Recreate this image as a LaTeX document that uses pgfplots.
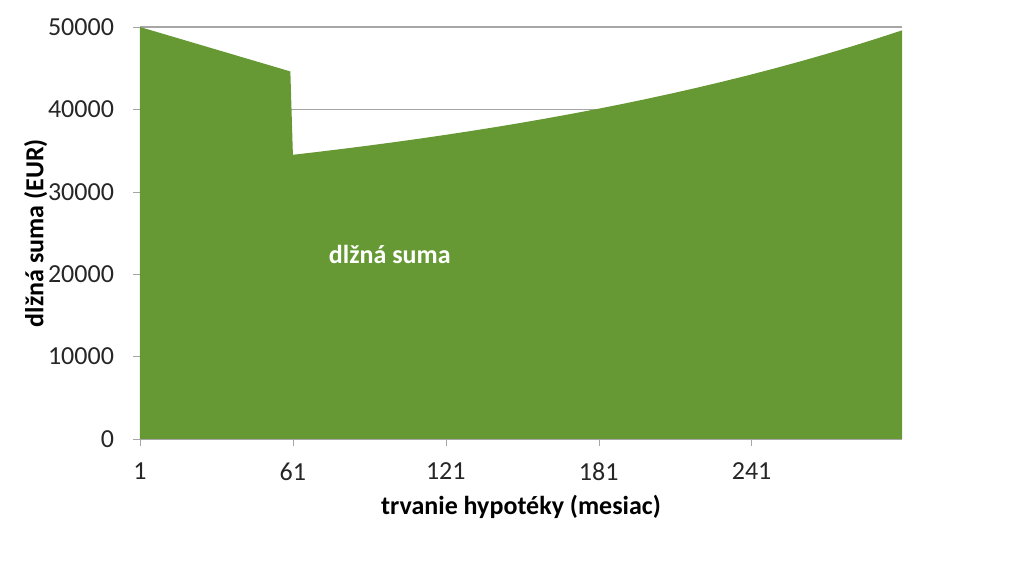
\documentclass[border=0pt]{standalone}
\usepackage{pgfplots}
\pgfplotsset{compat=1.18}
\usepackage{fontspec}
\setmainfont{Carlito}
\definecolor{areagreen}{HTML}{669933}
\definecolor{gridgray}{HTML}{A6A6A6}
\begin{document}
\begin{tikzpicture}
\useasboundingbox (-70pt,-64.5pt) rectangle (442pt,219.5pt);
\begin{axis}[
at = {(0,0)},
anchor = south west,
scale only axis,
width = 381pt,
height = 206pt,
xmin = 1,
xmax = 300,
ymin = 0,
ymax = 50000,
xtick = {1,61,121,181,241},
ytick = {0,10000,20000,30000,40000,50000},
scaled ticks = false,
axis lines* = left,
axis line style = {-, draw=gridgray},
tick style = {gridgray},
tick align = outside,
major tick length = 3.5pt,
ymajorgrids = true,
grid style = {gridgray, line width=0.6pt},
/pgf/number format/assume math mode=true,
/pgf/number format/1000 sep={},
ticklabel style = {font=\fontsize{13}{15}\selectfont, text=black!85},
xticklabel style = {yshift=-5pt},
yticklabel style = {xshift=-6pt},
xlabel = {trvanie hypotéky (mesiac)},
ylabel = {dlžná suma (EUR)},
label style = {font=\fontsize{13}{15}\selectfont\bfseries},
ylabel style = {yshift=-6.5pt},
]
\addplot [fill=areagreen, draw=none] coordinates {
(1,50000)
(60,44608)
(61,34492)
(70,34815)
(80,35190)
(90,35582)
(100,35992)
(110,36421)
(120,36869)
(130,37339)
(140,37829)
(150,38343)
(160,38880)
(170,39442)
(180,40029)
(190,40644)
(200,41287)
(210,41960)
(220,42663)
(230,43399)
(240,44169)
(250,44974)
(260,45817)
(270,46698)
(280,47619)
(290,48583)
(300,49592)
} \closedcycle;
\node [text=white, font=\fontsize{13}{15}\selectfont\bfseries] at (axis cs:99,22350) {dlžná suma};
\end{axis}
\end{tikzpicture}
\end{document}
